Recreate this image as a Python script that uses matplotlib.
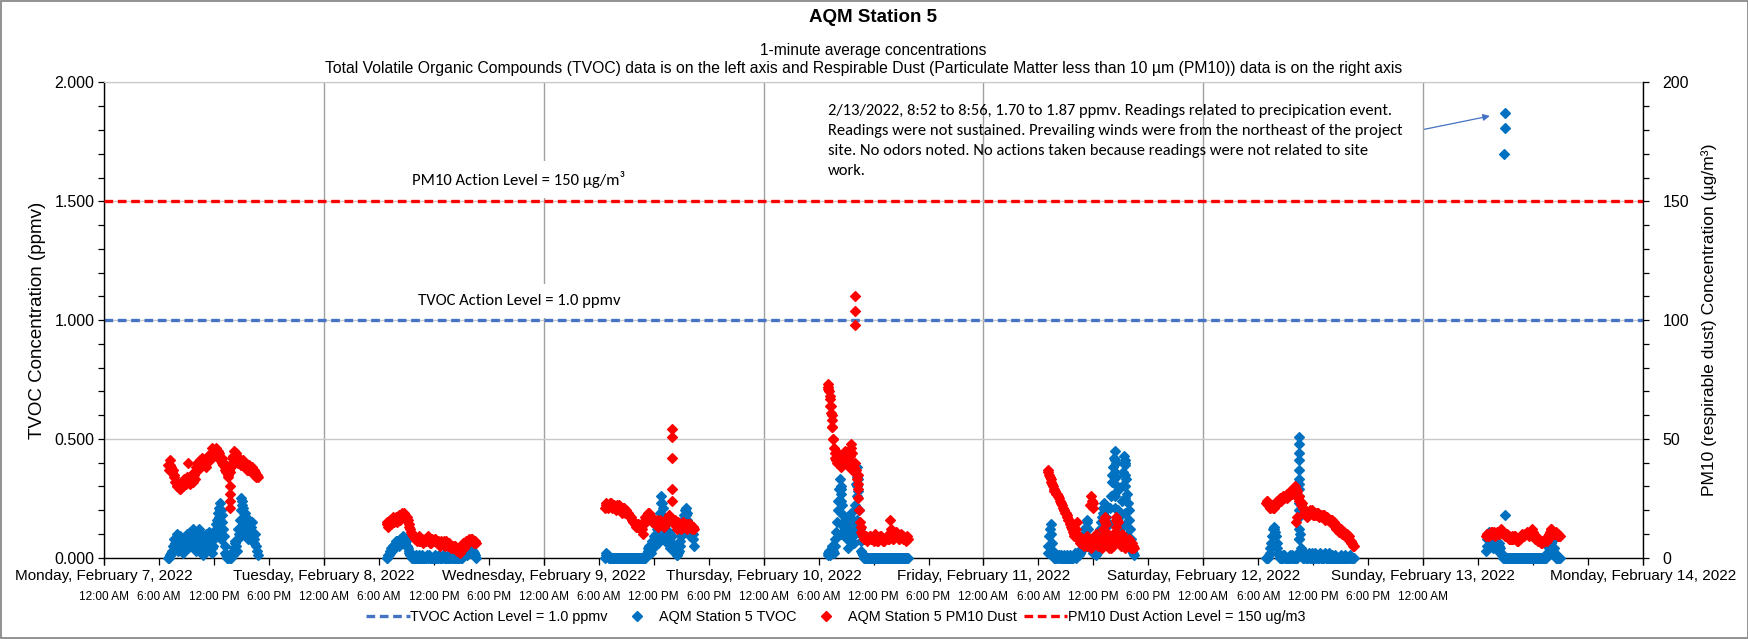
import numpy as np
import pandas as pd
import matplotlib
matplotlib.use("Agg")
import matplotlib.pyplot as plt
import matplotlib.dates as mdates
from matplotlib.ticker import FixedLocator, MultipleLocator, FuncFormatter
from matplotlib.lines import Line2D
from matplotlib.patches import Rectangle
from matplotlib import font_manager as fm

plt.rcParams['font.family'] = ['Liberation Sans', 'DejaVu Sans']
_names = {f.name for f in fm.fontManager.ttflist}
NOTE_FONT = ['Carlito', 'DejaVu Sans'] if 'Carlito' in _names else ['Lato', 'DejaVu Sans']

# ---------------- data ----------------
day_dates = ["2022-02-07", "2022-02-08", "2022-02-09", "2022-02-10",
             "2022-02-11", "2022-02-12", "2022-02-13", "2022-02-14"]
day_labels = ["Monday, February 7, 2022", "Tuesday, February 8, 2022",
              "Wednesday, February 9, 2022", "Thursday, February 10, 2022",
              "Friday, February 11, 2022", "Saturday, February 12, 2022",
              "Sunday, February 13, 2022", "Monday, February 14, 2022"]
hour_labels = ["12:00 AM", "6:00 AM", "12:00 PM", "6:00 PM"]
hour_label_end = "2022-02-13 00:00"

tvoc_action_level = 1.0      # ppmv
pm10_action_level = 150.0    # ug/m3

# readings at 10-minute steps; "_b" lists are the readings 5 minutes later
mon_start = "2022-02-07 07:00"
mon_start_b = "2022-02-07 07:05"
mon_tvoc = [0.00, 0.01, 0.02, 0.05, 0.08, 0.04, 0.10, 0.06, 0.09, 0.05,
            0.02, 0.07, 0.10, 0.04, 0.11, 0.07, 0.12, 0.08, 0.03, 0.10,
            0.12, 0.06, 0.09, 0.01, 0.06, 0.10, 0.04, 0.11, 0.07, 0.02,
            0.08, 0.12, 0.16, 0.21, 0.23, 0.18, 0.12, 0.05, 0.01, 0.00,
            0.01, 0.00, 0.02, 0.04, 0.07, 0.03, 0.12, 0.16, 0.25, 0.21,
            0.19, 0.09, 0.14, 0.16, 0.11, 0.15, 0.06, 0.10, 0.03]
mon_tvoc_b = [0.00, 0.01, 0.03, 0.03, 0.06, 0.07, 0.03, 0.08, 0.07, 0.03,
              0.05, 0.09, 0.06, 0.08, 0.05, 0.09, 0.10, 0.05, 0.07, 0.05,
              0.09, 0.10, 0.04, 0.03, 0.08, 0.07, 0.09, 0.05, 0.04, 0.05,
              0.10, 0.14, 0.19, 0.17, 0.20, 0.15, 0.09, 0.02, 0.00, 0.00,
              0.00, 0.01, 0.01, 0.06, 0.05, 0.08, 0.10, 0.20, 0.22, 0.14,
              0.12, 0.12, 0.08, 0.13, 0.13, 0.09, 0.08, 0.05, 0.01]
mon_pm10 = [39, 41, 38, 37, 34, 32, 30, 31, 29, 32,
            31, 33, 32, 40, 33, 35, 32, 35, 37, 40,
            38, 41, 42, 39, 40, 42, 43, 41, 44, 46,
            45, 46, 43, 44, 41, 42, 39, 38, 36, 35,
            37, 38, 42, 45, 43, 42, 40, 41, 39, 41,
            38, 39, 37, 39, 37, 38, 35, 36, 35]
mon_pm10_b = [37, 39, 36, 35, 32, 30, 31, 29, 30, 30,
              33, 31, 34, 32, 31, 33, 34, 33, 38, 37,
              40, 39, 40, 41, 38, 40, 41, 43, 42, 44,
              44, 44, 45, 42, 42, 40, 40, 37, 37, 34,
              36, 40, 43, 43, 44, 40, 42, 39, 40, 39,
              40, 37, 38, 38, 38, 36, 37, 34, 34]

tue_start = "2022-02-08 06:50"
tue_start_b = "2022-02-08 06:55"
tue_tvoc = [0.00, 0.01, 0.02, 0.04, 0.05, 0.04, 0.06, 0.07, 0.05, 0.08,
            0.07, 0.09, 0.06, 0.07, 0.04, 0.02, 0.01, 0.00, 0.00, 0.01,
            0.00, 0.00, 0.00, 0.01, 0.00, 0.00, 0.00, 0.00, 0.01, 0.00,
            0.00, 0.00, 0.01, 0.00, 0.00, 0.00, 0.00, 0.01, 0.00, 0.00,
            0.00, 0.00, 0.00, 0.01, 0.00, 0.00, 0.00, 0.00, 0.01, 0.00,
            0.02, 0.01, 0.02, 0.03, 0.04, 0.03, 0.05, 0.02, 0.01]
tue_tvoc_b = [0.00, 0.01, 0.03, 0.03, 0.05, 0.05, 0.07, 0.06, 0.07, 0.06,
              0.08, 0.07, 0.08, 0.05, 0.03, 0.01, 0.00, 0.00, 0.00, 0.00,
              0.00, 0.01, 0.00, 0.00, 0.00, 0.00, 0.01, 0.00, 0.00, 0.00,
              0.00, 0.00, 0.00, 0.00, 0.01, 0.00, 0.00, 0.00, 0.00, 0.00,
              0.01, 0.00, 0.00, 0.00, 0.00, 0.00, 0.01, 0.00, 0.00, 0.00,
              0.01, 0.02, 0.01, 0.03, 0.02, 0.04, 0.03, 0.02, 0.00]
tue_pm10 = [15, 13, 16, 14, 17, 15, 17, 15, 18, 16,
            19, 17, 18, 16, 16, 13, 11, 10, 9, 8,
            7, 9, 7, 8, 6, 8, 7, 9, 7, 6,
            8, 7, 8, 6, 7, 5, 7, 6, 5, 7,
            5, 6, 4, 5, 4, 5, 3, 4, 2, 5,
            6, 4, 7, 6, 8, 7, 8, 6, 7]
tue_pm10_b = [14, 15, 15, 16, 16, 16, 16, 17, 17, 18,
              18, 19, 17, 17, 14, 12, 10, 9, 8, 8,
              8, 7, 8, 7, 7, 7, 8, 8, 6, 7,
              7, 8, 7, 7, 6, 6, 6, 7, 6, 6,
              6, 5, 5, 4, 5, 4, 4, 3, 4, 4,
              5, 5, 6, 7, 7, 8, 7, 7, 6]

wed_start = "2022-02-09 06:40"
wed_start_b = "2022-02-09 06:45"
wed_tvoc = [0.00, 0.02, 0.01, 0.00, 0.00, 0.00, 0.00, 0.00, 0.00, 0.00,
            0.00, 0.00, 0.00, 0.00, 0.00, 0.00, 0.00, 0.00, 0.00, 0.00,
            0.00, 0.00, 0.00, 0.00, 0.00, 0.00, 0.00,
            0.01, 0.03, 0.05, 0.02, 0.07, 0.09, 0.05, 0.12, 0.08, 0.19,
            0.26, 0.21, 0.10, 0.14, 0.06, 0.11, 0.04, 0.09, 0.03, 0.02,
            0.01, 0.02, 0.05, 0.09, 0.14, 0.18, 0.21, 0.16, 0.12, 0.09,
            0.13, 0.08]
wed_tvoc_b = [0.01, 0.01, 0.00, 0.00, 0.00, 0.00, 0.00, 0.00, 0.00, 0.00,
              0.00, 0.00, 0.00, 0.00, 0.00, 0.00, 0.00, 0.00, 0.00, 0.00,
              0.00, 0.00, 0.00, 0.00, 0.00, 0.00, 0.00,
              0.02, 0.04, 0.03, 0.05, 0.06, 0.07, 0.10, 0.06, 0.13, 0.16,
              0.23, 0.15, 0.08, 0.11, 0.09, 0.07, 0.06, 0.05, 0.04, 0.02,
              0.01, 0.03, 0.07, 0.11, 0.16, 0.20, 0.19, 0.14, 0.10, 0.11,
              0.10, 0.05]
wed_pm10 = [21, 23, 21, 22, 23, 21, 22, 20, 22, 21,
            21, 19, 21, 20, 20, 19, 18, 17, 16, 15,
            14, 13, 14, 12, 13, 10, 16, 17, 18, 19,
            17, 15, 16, 14, 16, 13, 16, 14, 15, 13,
            15, 16, 18, 17, 15, 14, 16, 12, 15, 13,
            12, 15, 13, 14, 12, 13, 14, 12, 13]
wed_pm10_b = [22, 22, 22, 23, 22, 22, 21, 21, 21, 22,
              20, 20, 21, 19, 19, 18, 17, 16, 15, 14,
              13, 14, 13, 13, 12, 14, 17, 18, 19, 18,
              16, 16, 15, 15, 14, 15, 15, 15, 14, 14,
              15, 17, 17, 16, 15, 15, 14, 14, 14, 13,
              13, 14, 14, 13, 14, 13, 13, 13, 12]

thu_start = "2022-02-10 07:00"
thu_start_b = "2022-02-10 07:05"
thu_tvoc = [0.01, 0.03, 0.02, 0.05, 0.02, 0.08, 0.15, 0.24, 0.33, 0.27,
            0.18, 0.09, 0.14, 0.04, 0.16, 0.19, 0.12, 0.06, 0.22, 0.38,
            0.28, 0.12, 0.03, 0.01, 0.00, 0.00, 0.00, 0.00, 0.00, 0.00,
            0.00, 0.00, 0.00, 0.00, 0.00, 0.00, 0.00, 0.00, 0.00, 0.00,
            0.00, 0.00, 0.00, 0.00, 0.00, 0.00, 0.00, 0.00, 0.00, 0.00,
            0.00, 0.00, 0.00]
thu_tvoc_b = [0.02, 0.01, 0.04, 0.03, 0.05, 0.11, 0.20, 0.29, 0.30, 0.22,
              0.13, 0.12, 0.08, 0.10, 0.17, 0.15, 0.09, 0.14, 0.31, 0.33,
              0.20, 0.07, 0.02, 0.00, 0.00, 0.00, 0.00, 0.00, 0.00, 0.00,
              0.00, 0.00, 0.00, 0.00, 0.00, 0.00, 0.00, 0.00, 0.00, 0.00,
              0.00, 0.00, 0.00, 0.00, 0.00, 0.00, 0.00, 0.00, 0.00, 0.00,
              0.00, 0.00, 0.00]
thu_pm10 = [73, 70, 64, 55, 46, 42, 40, 44, 42, 38,
            43, 45, 41, 43, 38, 48, 44, 36, 40, 33,
            25, 15, 11, 9, 8, 9, 7, 8, 9, 8,
            7, 10, 8, 7, 8, 9, 8, 7, 8, 9,
            8, 16, 9, 8, 10, 11, 9, 8, 10, 9,
            8, 7, 9]
thu_pm10_b = [71, 67, 60, 50, 44, 41, 42, 43, 40, 41,
              44, 43, 42, 40, 43, 46, 40, 38, 37, 29,
              20, 13, 10, 9, 8, 8, 8, 9, 8, 8,
              9, 9, 7, 8, 9, 8, 7, 8, 9, 8,
              10, 12, 8, 9, 11, 10, 8, 9, 9, 8,
              8, 8, 8]

fri_start = "2022-02-11 07:00"
fri_start_b = "2022-02-11 07:05"
fri_tvoc = [0.02, 0.09, 0.14, 0.06, 0.01, 0.00, 0.01, 0.00, 0.00, 0.01,
            0.00, 0.00, 0.00, 0.01, 0.00, 0.00, 0.00, 0.01, 0.02, 0.01,
            0.01, 0.02, 0.03, 0.06, 0.10, 0.13, 0.16, 0.08, 0.04, 0.07,
            0.02, 0.05, 0.01, 0.04, 0.09, 0.15, 0.19, 0.23, 0.17, 0.10,
            0.06, 0.21, 0.32, 0.38, 0.45, 0.34, 0.20, 0.08, 0.18, 0.30,
            0.43, 0.41, 0.27, 0.20, 0.12, 0.05, 0.02]
fri_tvoc_b = [0.05, 0.12, 0.10, 0.03, 0.00, 0.00, 0.00, 0.01, 0.00, 0.00,
              0.01, 0.00, 0.00, 0.00, 0.01, 0.00, 0.00, 0.01, 0.00, 0.02,
              0.01, 0.02, 0.04, 0.08, 0.12, 0.15, 0.12, 0.06, 0.05, 0.04,
              0.03, 0.03, 0.02, 0.06, 0.12, 0.17, 0.21, 0.20, 0.13, 0.08,
              0.14, 0.26, 0.35, 0.42, 0.40, 0.28, 0.14, 0.12, 0.24, 0.36,
              0.40, 0.33, 0.23, 0.16, 0.08, 0.03, 0.01]
fri_pm10 = [37, 35, 33, 31, 29, 28, 27, 26, 24, 23,
            21, 20, 19, 17, 16, 14, 12, 10, 9, 15,
            8, 7, 6, 8, 5, 7, 9, 6, 7, 5,
            8, 6, 9, 5, 7, 6, 9, 16, 14, 7,
            4, 6, 8, 5, 11, 17, 15, 7, 5, 8,
            6, 4, 7, 5, 6, 4, 5]
fri_pm10_b = [36, 34, 32, 30, 28, 27, 26, 25, 23, 22,
              20, 19, 18, 16, 15, 13, 11, 9, 12, 10,
              9, 6, 7, 6, 8, 5, 8, 7, 4, 8,
              6, 10, 7, 6, 8, 4, 12, 15, 11, 5,
              7, 4, 9, 6, 13, 15, 9, 6, 10, 5,
              7, 5, 6, 8, 4, 6, 4]

sat_start = "2022-02-12 06:50"
sat_start_b = "2022-02-12 06:55"
sat_tvoc = [0.00, 0.00, 0.01, 0.04, 0.09, 0.13, 0.11, 0.06, 0.02, 0.00,
            0.00, 0.00, 0.01, 0.00, 0.00, 0.00, 0.00, 0.01, 0.00, 0.00,
            0.00, 0.02, 0.20, 0.04, 0.00, 0.00, 0.01, 0.00, 0.02, 0.00,
            0.00, 0.00, 0.02, 0.00, 0.00, 0.01, 0.00, 0.00, 0.00, 0.02,
            0.00, 0.00, 0.00, 0.01, 0.00, 0.00, 0.00, 0.00, 0.00, 0.01,
            0.00, 0.00, 0.00, 0.00, 0.00, 0.01, 0.00, 0.00]
sat_tvoc_b = [0.00, 0.00, 0.02, 0.06, 0.12, 0.12, 0.09, 0.04, 0.01, 0.00,
              0.00, 0.01, 0.00, 0.00, 0.00, 0.01, 0.00, 0.00, 0.00, 0.01,
              0.00, 0.08, 0.10, 0.01, 0.00, 0.02, 0.00, 0.00, 0.01, 0.00,
              0.02, 0.00, 0.00, 0.01, 0.00, 0.02, 0.00, 0.00, 0.01, 0.00,
              0.00, 0.02, 0.00, 0.00, 0.00, 0.01, 0.00, 0.00, 0.00, 0.00,
              0.00, 0.01, 0.00, 0.00, 0.00, 0.00, 0.00, 0.00]
sat_pm10 = [23, 24, 22, 21, 22, 21, 23, 24, 23, 25,
            24, 26, 25, 26, 27, 26, 28, 27, 29, 30,
            27, 25, 24, 22, 21, 19, 18, 17, 19, 20,
            19, 18, 19, 18, 19, 17, 18, 17, 18, 16,
            17, 16, 15, 16, 14, 13, 12, 13, 11, 12,
            10, 11, 9, 10, 8, 7, 6, 5]
sat_pm10_b = [24, 22, 21, 22, 21, 22, 22, 23, 24, 24,
              25, 25, 26, 25, 26, 27, 27, 28, 28, 29,
              28, 26, 24, 23, 21, 20, 18, 18, 18, 19,
              20, 18, 18, 19, 18, 18, 17, 18, 17, 17,
              16, 16, 16, 15, 15, 14, 13, 12, 12, 11,
              11, 10, 10, 9, 9, 7, 6, 5]

sun_start = "2022-02-13 06:50"
sun_start_b = "2022-02-13 06:55"
sun_tvoc = [0.03, 0.08, 0.11, 0.06, 0.09, 0.04, 0.07, 0.05, 0.03, 0.06,
            0.02, 0.01, 0.00, 0.00, 0.00, 0.00, 0.00, 0.00, 0.00, 0.00,
            0.00, 0.00, 0.00, 0.00, 0.00, 0.00, 0.00, 0.00, 0.00, 0.00,
            0.00, 0.00, 0.00, 0.00, 0.00, 0.00, 0.00, 0.00, 0.00, 0.00,
            0.02, 0.05, 0.08, 0.06, 0.03, 0.01, 0.00, 0.00, 0.00]
sun_tvoc_b = [0.05, 0.10, 0.08, 0.07, 0.06, 0.06, 0.05, 0.04, 0.05, 0.04,
              0.01, 0.00, 0.00, 0.00, 0.00, 0.00, 0.00, 0.00, 0.00, 0.00,
              0.00, 0.00, 0.00, 0.00, 0.00, 0.00, 0.00, 0.00, 0.00, 0.00,
              0.00, 0.00, 0.00, 0.00, 0.00, 0.00, 0.00, 0.00, 0.00, 0.00,
              0.01, 0.04, 0.07, 0.07, 0.04, 0.02, 0.00, 0.00, 0.00]
sun_pm10 = [9, 10, 9, 10, 11, 10, 9, 10, 11, 10,
            12, 11, 10, 9, 10, 9, 8, 9, 8, 9,
            8, 7, 8, 9, 10, 9, 10, 11, 9, 10,
            12, 11, 9, 8, 7, 8, 7, 6, 7, 8,
            7, 9, 11, 12, 11, 10, 11, 10, 9]
sun_pm10_b = [10, 9, 10, 11, 10, 11, 10, 11, 10, 11,
              11, 10, 9, 10, 9, 8, 8, 8, 9, 8,
              7, 8, 8, 9, 9, 10, 10, 10, 10, 11,
              11, 10, 8, 8, 7, 7, 6, 7, 7, 8,
              8, 10, 12, 11, 10, 10, 10, 9, 9]

# individual readings (spikes, outliers, event)
tvoc_extra_times = ["2022-02-07 12:40", "2022-02-07 12:41", "2022-02-07 12:42", "2022-02-07 12:43",
                    "2022-02-07 15:05", "2022-02-07 15:15", "2022-02-07 15:25",
                    "2022-02-09 12:50", "2022-02-09 12:52", "2022-02-09 12:54", "2022-02-09 15:30", "2022-02-09 15:32",
                    "2022-02-10 08:25", "2022-02-10 08:26", "2022-02-10 08:27", "2022-02-10 08:28", "2022-02-10 08:29",
                    "2022-02-10 10:10", "2022-02-10 10:11", "2022-02-10 10:12", "2022-02-10 10:13", "2022-02-10 10:14", "2022-02-10 10:15",
                    "2022-02-11 14:20", "2022-02-11 14:21", "2022-02-11 14:22", "2022-02-11 14:23", "2022-02-11 14:24", "2022-02-11 14:25", "2022-02-11 14:26",
                    "2022-02-11 15:25", "2022-02-11 15:26", "2022-02-11 15:27", "2022-02-11 15:28", "2022-02-11 15:29", "2022-02-11 15:30", "2022-02-11 15:31",
                    "2022-02-12 10:29", "2022-02-12 10:29", "2022-02-12 10:29", "2022-02-12 10:29", "2022-02-12 10:29",
                    "2022-02-12 10:29", "2022-02-12 10:29", "2022-02-12 10:29", "2022-02-12 10:29", "2022-02-12 10:29",
                    "2022-02-12 10:29", "2022-02-12 10:29", "2022-02-12 10:29",
                    "2022-02-13 08:58"]
tvoc_extra_vals = [0.20, 0.16, 0.12, 0.08,
                   0.24, 0.19, 0.17,
                   0.23, 0.18, 0.15, 0.18, 0.15,
                   0.29, 0.24, 0.19, 0.14, 0.10,
                   0.34, 0.30, 0.26, 0.21, 0.16, 0.11,
                   0.41, 0.36, 0.31, 0.26, 0.21, 0.15, 0.10,
                   0.39, 0.35, 0.30, 0.25, 0.19, 0.14, 0.09,
                   0.51, 0.48, 0.44, 0.41, 0.37,
                   0.33, 0.31, 0.29, 0.26, 0.23,
                   0.17, 0.12, 0.08,
                   0.18]
tvoc_event_times = ["2022-02-13 08:52", "2022-02-13 08:54", "2022-02-13 08:56"]
tvoc_event_vals = [1.70, 1.81, 1.87]

pm10_extra_times = ["2022-02-07 13:45", "2022-02-07 13:46", "2022-02-07 13:47", "2022-02-07 13:48",
                    "2022-02-09 14:00", "2022-02-09 14:00", "2022-02-09 14:00", "2022-02-09 14:01", "2022-02-09 14:01",
                    "2022-02-10 07:05", "2022-02-10 07:12", "2022-02-10 07:18", "2022-02-10 07:22",
                    "2022-02-10 07:26", "2022-02-10 07:30", "2022-02-10 07:34",
                    "2022-02-10 10:00", "2022-02-10 10:00", "2022-02-10 10:00",
                    "2022-02-10 10:15", "2022-02-10 10:18",
                    "2022-02-11 11:40", "2022-02-11 11:45", "2022-02-11 11:50", "2022-02-11 11:55", "2022-02-11 12:00",
                    "2022-02-11 13:15", "2022-02-11 14:25", "2022-02-11 14:35",
                    "2022-02-12 10:10", "2022-02-12 10:12"]
pm10_extra_vals = [30, 27, 24, 21,
                   54, 51, 42, 29, 24,
                   72, 68, 64, 61, 58, 55, 50,
                   110, 104, 98,
                   35, 31,
                   22, 26, 24, 21, 23,
                   17, 16, 16,
                   15, 17]

note_text = ("2/13/2022, 8:52 to 8:56, 1.70 to 1.87 ppmv. Readings related to precipication event.\n"
             "Readings were not sustained. Prevailing winds were from the northeast of the project\n"
             "site. No odors noted. No actions taken because readings were not related to site\n"
             "work.")

# ---------------- build series ----------------
def tnum(strings):
    return mdates.date2num(pd.to_datetime(strings).to_pydatetime())

def steps(start, n):
    return mdates.date2num(pd.date_range(start, periods=n, freq="10min").to_pydatetime())

day_series = [(mon_start, mon_tvoc, mon_pm10), (mon_start_b, mon_tvoc_b, mon_pm10_b),
              (tue_start, tue_tvoc, tue_pm10), (tue_start_b, tue_tvoc_b, tue_pm10_b),
              (wed_start, wed_tvoc, wed_pm10), (wed_start_b, wed_tvoc_b, wed_pm10_b),
              (thu_start, thu_tvoc, thu_pm10), (thu_start_b, thu_tvoc_b, thu_pm10_b),
              (fri_start, fri_tvoc, fri_pm10), (fri_start_b, fri_tvoc_b, fri_pm10_b),
              (sat_start, sat_tvoc, sat_pm10), (sat_start_b, sat_tvoc_b, sat_pm10_b),
              (sun_start, sun_tvoc, sun_pm10), (sun_start_b, sun_tvoc_b, sun_pm10_b)]
tx, ty, px, py = [], [], [], []
for start, tv, pm in day_series:
    tx.append(steps(start, len(tv))); ty.append(np.array(tv, float))
    px.append(steps(start, len(pm))); py.append(np.array(pm, float))
tx.append(tnum(tvoc_extra_times)); ty.append(np.array(tvoc_extra_vals, float))
tx.append(tnum(tvoc_event_times)); ty.append(np.array(tvoc_event_vals, float))
px.append(tnum(pm10_extra_times)); py.append(np.array(pm10_extra_vals, float))
tx = np.concatenate(tx); ty = np.concatenate(ty)
px = np.concatenate(px); py = np.concatenate(py)

BLUE = "#0070C0"
RED = "#FF0000"
DASH_BLUE = "#4472C4"
DASH = (0, (2.6, 1.4))

# ---------------- figure ----------------
fig = plt.figure(figsize=(17.49, 6.39), dpi=100)
ax = fig.add_axes([0.0595, 0.1272, 0.8799, 0.7437])
ax2 = ax.twinx()

day_nums = tnum(day_dates)
ax.set_xlim(day_nums[0], day_nums[-1])
ax.set_ylim(0, 2.0)
ax2.set_ylim(0, 200)

ax.yaxis.set_major_locator(MultipleLocator(0.5))
ax.yaxis.set_minor_locator(MultipleLocator(0.1))
ax.yaxis.set_major_formatter(FuncFormatter(lambda v, p: f"{v:.3f}"))
ax2.yaxis.set_major_locator(MultipleLocator(50))
ax2.yaxis.set_minor_locator(MultipleLocator(10))
ax2.yaxis.set_major_formatter(FuncFormatter(lambda v, p: f"{v:.0f}"))
ax.grid(True, axis='y', which='major', color='#C8C8C8', lw=1.0, zorder=0)
ax.grid(True, axis='x', which='major', color='#A0A0A0', lw=1.0, zorder=0)
ax.set_axisbelow(True)

# x ticks: day names (major) and 6-hour labels (minor)
ax.xaxis.remove_overlapping_locs = False
ax.xaxis.set_major_locator(FixedLocator(day_nums))
ax.set_xticklabels(day_labels)
six_h = tnum(pd.date_range(day_dates[0], day_dates[-1], freq="6h"))
end_lab = tnum([hour_label_end])[0]
hour_labs = [hour_labels[i % 4] if v <= end_lab + 1e-9 else "" for i, v in enumerate(six_h)]
ax.xaxis.set_minor_locator(FixedLocator(six_h))
ax.xaxis.set_minor_formatter(FuncFormatter(lambda v, p: hour_labs[p] if p is not None and p < len(hour_labs) else ""))
ax.tick_params(axis='x', which='major', length=5, width=0.9, pad=3, labelsize=11, direction='out')
ax.tick_params(axis='x', which='minor', length=5, width=0.9, pad=19, labelsize=8.5, direction='out')
ax.tick_params(axis='y', which='both', length=4, width=0.9, direction='out', labelsize=11.5, pad=3)
ax2.tick_params(axis='y', which='both', length=4, width=0.9, direction='out', labelsize=11.5, pad=10)

for s in ['left', 'bottom']:
    ax.spines[s].set_color('black'); ax.spines[s].set_linewidth(1.0)
ax.spines['top'].set_color('#C8C8C8')
ax.spines['right'].set_visible(False)
ax2.spines['right'].set_color('black'); ax2.spines['right'].set_linewidth(1.0)
for s in ['left', 'bottom', 'top']:
    ax2.spines[s].set_visible(False)

# data
ax.plot(tx, ty, ls='none', marker='D', ms=4.7, mew=0.9, color=BLUE, mec=BLUE, clip_on=False, zorder=3)
ax.axhline(tvoc_action_level, color=DASH_BLUE, lw=2.4, ls=DASH, zorder=2)
ax2.plot(px, py, ls='none', marker='D', ms=4.7, mew=0.9, color=RED, mec=RED, clip_on=False, zorder=3)
ax2.axhline(pm10_action_level, color=RED, lw=2.4, ls=DASH, zorder=2)

# axis titles
ax.set_ylabel("TVOC Concentration (ppmv)", fontsize=13.5, labelpad=6)
ax2.set_ylabel("PM10 (respirable dust) Concentration (\u00b5g/m\u00b3)", fontsize=12.6, labelpad=9)

# action level labels
ax.text(0.2695, 0.795, "PM10 Action Level = 150 \u00b5g/m\u00b3", transform=ax.transAxes,
        ha='center', va='center', fontsize=12, family=NOTE_FONT,
        bbox=dict(boxstyle='square,pad=0.6', fc='white', ec='none'), zorder=4)
ax.text(0.2695, 0.540, "TVOC Action Level = 1.0 ppmv", transform=ax.transAxes,
        ha='center', va='center', fontsize=12, family=NOTE_FONT,
        bbox=dict(boxstyle='square,pad=0.6', fc='white', ec='none'), zorder=4)

# note and arrow
fig.text(828 / 1749, 1 - 103.5 / 639, note_text, ha='left', va='top', fontsize=11.9,
         family=NOTE_FONT, linespacing=1.55)
ax.annotate("", xy=(tnum(["2022-02-13 07:17"])[0], 1.859),
            xytext=(tnum(["2022-02-13 00:08"])[0], 1.803),
            arrowprops=dict(arrowstyle='-|>', color=DASH_BLUE, lw=0.9, mutation_scale=10,
                            shrinkA=0, shrinkB=0))

# titles
fig.text(0.4994, 1 - 18 / 639, "AQM Station 5", ha='center', va='center', fontsize=13.5, fontweight='bold')
fig.text(0.4994, 1 - 50 / 639, "1-minute average concentrations", ha='center', va='center', fontsize=11.2)
fig.text(0.4936, 1 - 68 / 639,
         "Total Volatile Organic Compounds (TVOC) data is on the left axis and Respirable Dust "
         "(Particulate Matter less than 10 \u00b5m (PM10)) data is on the right axis",
         ha='center', va='center', fontsize=11.3)

# legend
handles = [Line2D([], [], color=DASH_BLUE, lw=2.4, ls=DASH),
           Line2D([], [], ls='none', marker='D', ms=4.8, color=BLUE),
           Line2D([], [], ls='none', marker='D', ms=4.8, color=RED),
           Line2D([], [], color=RED, lw=2.4, ls=DASH)]
labels = ["TVOC Action Level = 1.0 ppmv", "AQM Station 5 TVOC",
          "AQM Station 5 PM10 Dust", "PM10 Dust Action Level = 150 ug/m3"]
fig.legend(handles, labels, loc='center', bbox_to_anchor=(836 / 1749, 1 - 617 / 639), ncol=4,
           frameon=False, fontsize=10.4, handlelength=3.0, handletextpad=0.05, columnspacing=0.5)

fig.patches.append(Rectangle((0.0005, 0.001), 0.999, 0.998, transform=fig.transFigure,
                             fill=False, edgecolor='#7F7F7F', lw=1.2))

fig.savefig("out.png", dpi=100)
